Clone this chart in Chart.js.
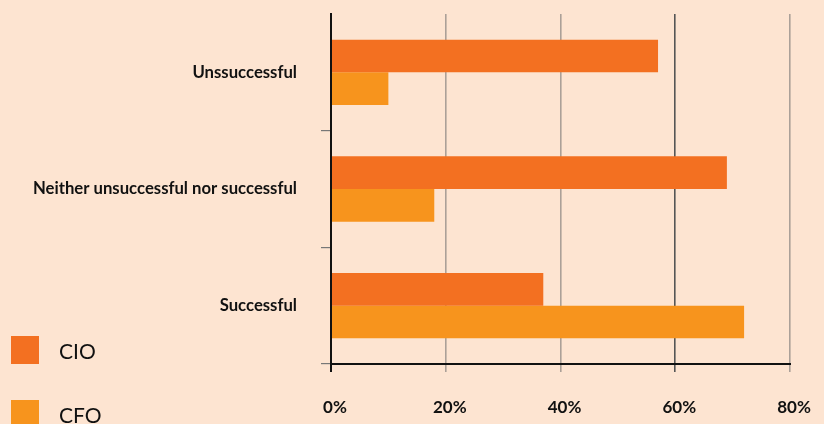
<!DOCTYPE html>
<html>
<head>
<meta charset="utf-8">
<script src="https://cdn.jsdelivr.net/npm/chart.js@4/dist/chart.umd.min.js"></script>
<style>
  html, body { margin: 0; padding: 0; background: #FDE4D1; overflow: hidden; }
  #wrap { position: relative; width: 824px; height: 424px; }
  canvas { position: absolute; left: 0; top: 0; }
  .leg { position: absolute; left: 11px; font-family: Lato, "Open Sans", sans-serif; font-size: 21px; color: #111; }
  .leg .sw { position: absolute; left: 0; top: 0; width: 28px; height: 28px; }
  .leg .tx { position: absolute; left: 48px; top: 1px; line-height: 28px; white-space: nowrap; }
</style>
</head>
<body>
<div id="wrap">
  <canvas id="c" width="824" height="424"></canvas>
</div>
<script>
const categories = ["Unssuccessful", "Neither unsuccessful nor successful", "Successful"];
const seriesNames = ["CIO", "CFO"];
const cioValues = [57, 69, 37];
const cfoValues = [10, 18, 72];
const seriesColors = ["#F37021", "#F7941D"];
const xTicks = [0, 20, 40, 60, 80];

// HTML legend built from series names
const wrap = document.getElementById('wrap');
const legendTops = [336, 400];
seriesNames.forEach((n, i) => {
  const d = document.createElement('div');
  d.className = 'leg';
  d.style.top = legendTops[i] + 'px';
  d.innerHTML = '<div class="sw" style="background:' + seriesColors[i] + '"></div><div class="tx">' + n + '</div>';
  wrap.appendChild(d);
});

function zeroPad(s) { s.paddingTop = 0; s.paddingBottom = 0; s.paddingLeft = 0; s.paddingRight = 0; }

new Chart(document.getElementById('c'), {
  type: 'bar',
  data: {
    labels: categories,
    datasets: [
      { label: seriesNames[0], data: cioValues, backgroundColor: seriesColors[0], borderWidth: 0 },
      { label: seriesNames[1], data: cfoValues, backgroundColor: seriesColors[1], borderWidth: 0 }
    ]
  },
  options: {
    indexAxis: 'y',
    responsive: false,
    animation: false,
    devicePixelRatio: 1,
    layout: { autoPadding: false, padding: { top: 14, right: 34, left: 0, bottom: 0 } },
    datasets: { bar: { categoryPercentage: 0.56, barPercentage: 1.0 } },
    plugins: { legend: { display: false }, tooltip: { enabled: false } },
    scales: {
      x: {
        min: 0, max: 80,
        afterBuildTicks: (s) => { s.ticks = xTicks.map(v => ({ value: v })); },
        afterFit: (s) => { s.height = 60; zeroPad(s); },
        border: { display: true, color: '#111', width: 2 },
        grid: {
          drawOnChartArea: true, drawTicks: true, tickLength: 8,
          color: (ctx) => ctx.index === 0 ? '#111' : (ctx.index === 3 ? '#555' : '#ABA098'),
          lineWidth: (ctx) => ctx.index === 0 ? 2 : 1.6
        },
        ticks: {
          padding: 25,
          labelOffset: 4,
          color: '#111',
          font: { family: 'Lato, "Open Sans", sans-serif', size: 17, weight: 'bold' },
          callback: (v) => v + '%'
        }
      },
      y: {
        afterFit: (s) => { s.width = 331; zeroPad(s); },
        border: { display: true, color: '#111', width: 2 },
        grid: {
          offset: true,
          drawOnChartArea: false, drawTicks: true, tickLength: 10,
          color: (ctx) => ctx.index === 0 ? 'rgba(0,0,0,0)' : (ctx.index === 3 ? '#111' : '#777'),
          lineWidth: (ctx) => ctx.index === 3 ? 2 : 1.2
        },
        ticks: {
          padding: 24,
          color: '#111',
          font: { family: 'Lato, "Open Sans", sans-serif', size: 16.7, weight: 'bold' }
        }
      }
    }
  }
});
</script>
</body>
</html>
